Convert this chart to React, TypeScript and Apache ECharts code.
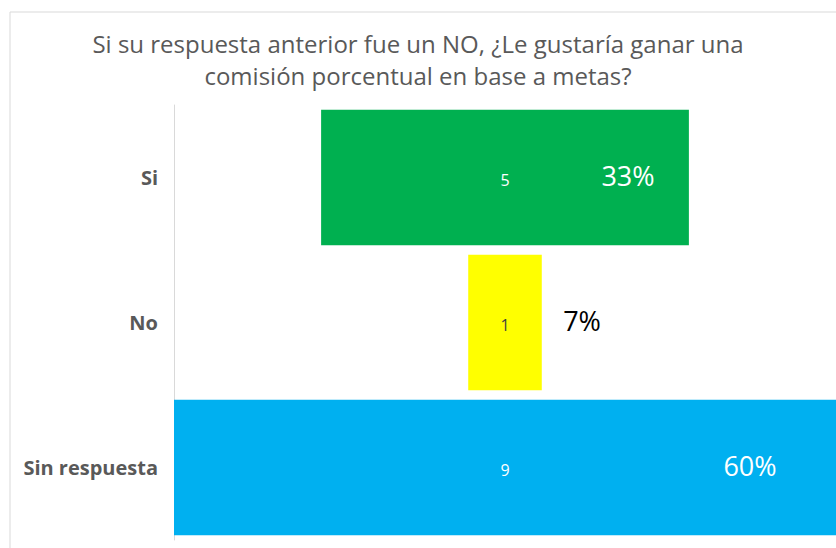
import React, { useEffect, useRef } from "react";
import * as echarts from "echarts";

const categories = ["Si", "No", "Sin respuesta"];
const counts = [5, 1, 9];
const percents = ["33%", "7%", "60%"];
const titleText = "Si su respuesta anterior fue un NO, ¿Le gustaría ganar una\ncomisión porcentual en base a metas?";

const barColors = ["#00B050", "#FFFF00", "#00B0F0"];
const countColors = ["#ffffff", "#404040", "#ffffff"];
const pctColors = ["#ffffff", "#000000", "#ffffff"];
const pctOffsets = [123, 77, 245];

export default function App() {
  const ref = useRef<HTMLDivElement>(null);
  useEffect(() => {
    if (!ref.current) return;
    const chart = echarts.init(ref.current, undefined, { renderer: "svg" });
    const maxV = Math.max(...counts);
    const offsets = counts.map((v) => (maxV - v) / 2);
    const font = "'Open Sans', Lato, sans-serif";
    chart.setOption({
      animation: false,
      backgroundColor: "#ffffff",
      title: {
        text: titleText,
        left: "center",
        top: 22,
        textStyle: {
          fontFamily: font,
          fontSize: 24,
          fontWeight: "normal",
          color: "#595959",
          lineHeight: 32,
        },
      },
      graphic: [
        {
          type: "rect",
          shape: { x: 10, y: 12, width: 900, height: 700 },
          style: { fill: "none", stroke: "#d9d9d9", lineWidth: 1 },
          silent: true,
          z: 0,
        },
      ],
      grid: { left: 174, right: 0, top: 105, bottom: 8 },
      xAxis: { type: "value", min: 0, max: maxV, show: false },
      yAxis: {
        type: "category",
        data: categories,
        inverse: true,
        axisLine: { show: true, lineStyle: { color: "#d9d9d9", width: 1 } },
        axisTick: { show: false },
        axisLabel: {
          fontFamily: font,
          fontSize: 20,
          fontWeight: "bold",
          color: "#595959",
          margin: 16,
        },
      },
      series: [
        {
          type: "bar",
          stack: "a",
          data: offsets,
          itemStyle: { color: "transparent" },
          barCategoryGap: "6.5%",
          silent: true,
        },
        {
          type: "bar",
          stack: "a",
          data: counts.map((v, i) => ({
            value: v,
            itemStyle: { color: barColors[i] },
            label: { color: countColors[i] },
          })),
          label: {
            show: true,
            position: "inside",
            fontFamily: font,
            fontSize: 16,
            offset: [0, 2],
          },
        },
        {
          type: "bar",
          stack: "b",
          data: offsets,
          itemStyle: { color: "transparent" },
          barGap: "-100%",
          silent: true,
        },
        {
          type: "bar",
          stack: "b",
          data: counts.map((v, i) => ({
            value: v,
            label: { color: pctColors[i], offset: [pctOffsets[i], -2] },
          })),
          itemStyle: { color: "transparent" },
          label: {
            show: true,
            position: "inside",
            fontFamily: font,
            fontSize: 27,
            formatter: (p: any) => percents[p.dataIndex],
          },
        },
      ],
    });
    return () => chart.dispose();
  }, []);
  return (
    <div
      ref={ref}
      style={{ position: "fixed", left: 0, top: 0, width: 836, height: 548 }}
    />
  );
}
